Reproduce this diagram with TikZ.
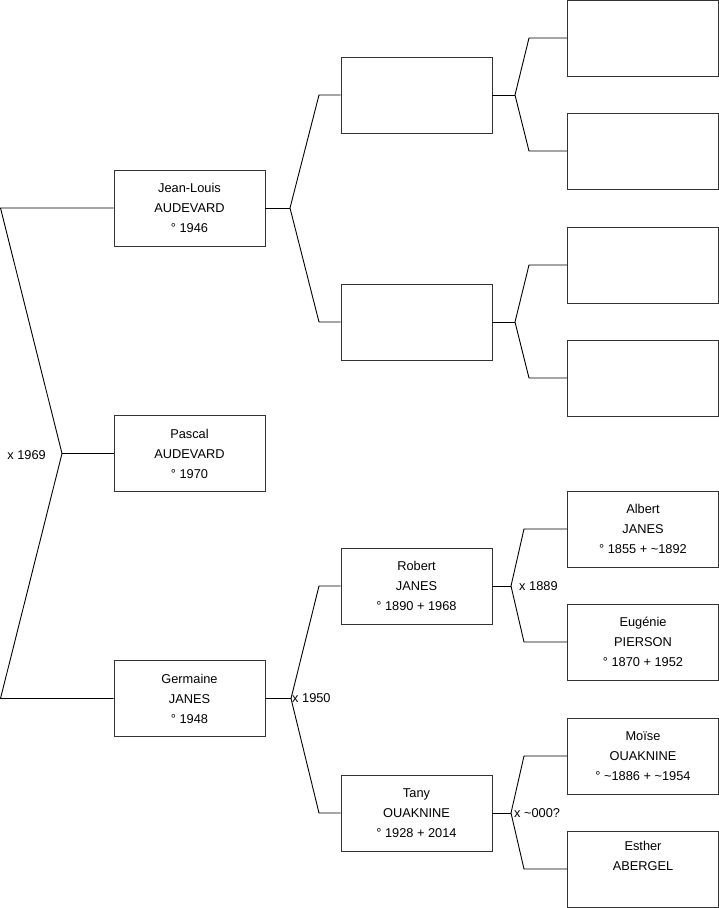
\documentclass[tikz,border=0pt]{standalone}
\usepackage{fontspec}
\setmainfont{Liberation Sans}
\begin{document}
\begin{tikzpicture}[x=1pt,y=-1pt,
  person/.style={draw=black!80, line width=0.9pt, fill=white, minimum width=151pt, minimum height=76pt, inner sep=0pt, align=center, font=\fontsize{12.8}{20}\selectfont},
  link/.style={draw=black, line width=0.9pt},
  lbl/.style={font=\fontsize{12.8}{14}\selectfont, inner sep=1pt}]
\useasboundingbox (0,0) rectangle (719,908);
% generation 1
\node[person] (jl) at (189.5,208) {Jean-Louis\\AUDEVARD\\° 1946};
\node[person] (pa) at (189.5,453.5) {Pascal\\AUDEVARD\\° 1970};
\node[person] (ge) at (189.5,698.5) {Germaine\\JANES\\° 1948};
% generation 2
\node[person] (f1) at (416.5,95) {};
\node[person] (f2) at (416.5,322) {};
\node[person] (ro) at (416.5,586) {Robert\\JANES\\° 1890 + 1968};
\node[person] (ta) at (416.5,813) {Tany\\OUAKNINE\\° 1928 + 2014};
% generation 3
\node[person] (g1) at (643,38) {};
\node[person] (g2) at (643,151) {};
\node[person] (g3) at (643,265) {};
\node[person] (g4) at (643,378) {};
\node[person] (al) at (643,529) {Albert\\JANES\\° 1855 + \textasciitilde1892};
\node[person] (eu) at (643,642) {Eugénie\\PIERSON\\° 1870 + 1952};
\node[person] (mo) at (643,756) {Moïse\\OUAKNINE\\° \textasciitilde1886 + \textasciitilde1954};
\node[person] (es) at (643,869) {Esther\\ABERGEL\\\strut};
% junctions
\coordinate (a0) at (0.5,208);
\coordinate (a1) at (62,453.5);
\coordinate (a2) at (0.5,698.5);
\coordinate (b0) at (290,208);
\coordinate (b0t) at (319,95);
\coordinate (b0b) at (319,322);
\coordinate (c0) at (515,95);
\coordinate (c0t) at (529,38);
\coordinate (c0b) at (529,151);
\coordinate (c1) at (515,322);
\coordinate (c1t) at (529,265);
\coordinate (c1b) at (529,378);
\coordinate (b2) at (291,698.5);
\coordinate (b2t) at (319,586);
\coordinate (b2b) at (319,813);
\coordinate (c2) at (511,586);
\coordinate (c2t) at (524,529);
\coordinate (c2b) at (524,642);
\coordinate (c3) at (511,813);
\coordinate (c3t) at (524,756);
\coordinate (c3b) at (524,869);
% connectors
\draw[link] (jl.west) -- (a0) -- (a1) -- (a2) -- (ge.west);
\draw[link] (a1) -- (pa.west);
\draw[link] (jl.east) -- (b0);
\draw[link] (f1.west) -- (b0t) -- (b0) -- (b0b) -- (f2.west);
\draw[link] (f1.east) -- (c0);
\draw[link] (g1.west) -- (c0t) -- (c0) -- (c0b) -- (g2.west);
\draw[link] (f2.east) -- (c1);
\draw[link] (g3.west) -- (c1t) -- (c1) -- (c1b) -- (g4.west);
\draw[link] (ge.east) -- (b2);
\draw[link] (ro.west) -- (b2t) -- (b2) -- (b2b) -- (ta.west);
\draw[link] (ro.east) -- (c2);
\draw[link] (al.west) -- (c2t) -- (c2) -- (c2b) -- (eu.west);
\draw[link] (ta.east) -- (c3);
\draw[link] (mo.west) -- (c3t) -- (c3) -- (c3b) -- (es.west);
% labels
\node[lbl, anchor=east] (l1) at ([xshift=-15pt,yshift=-2pt]a1) {x 1969};
\node[lbl, anchor=west] (l2) at (b2) {x 1950};
\node[lbl, anchor=west] (l3) at ([xshift=7pt]c2) {x 1889};
\node[lbl, anchor=west] (l4) at ([xshift=2pt]c3) {x \textasciitilde000?};
\end{tikzpicture}
\end{document}
